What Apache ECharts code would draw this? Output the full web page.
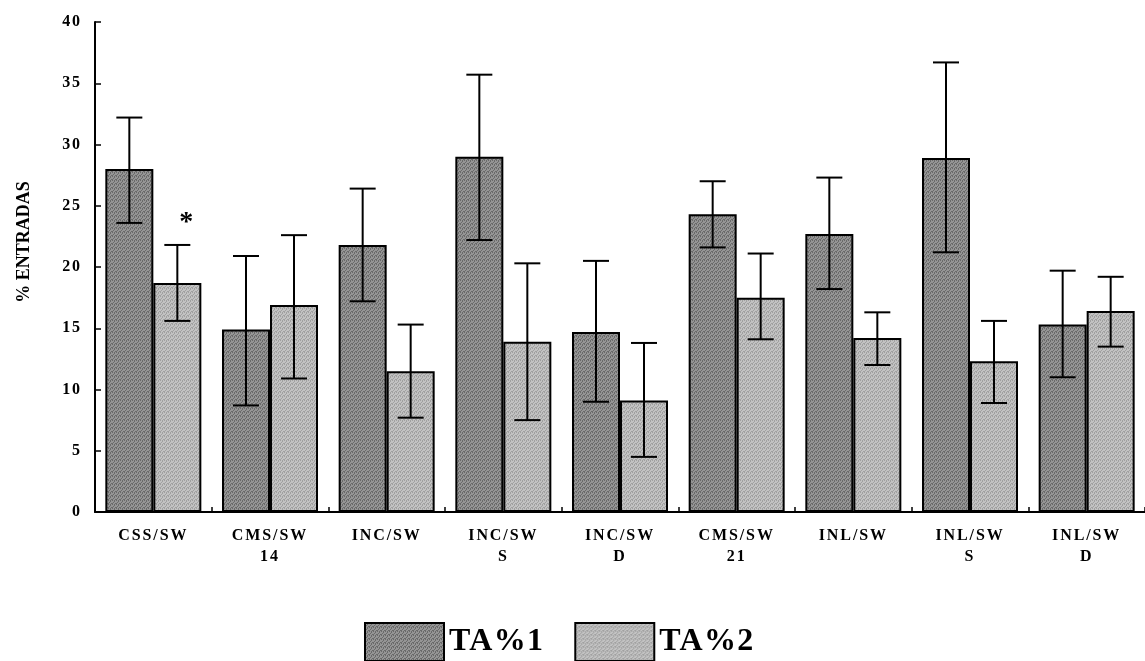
<!DOCTYPE html>
<html>
<head>
<meta charset="utf-8">
<script src="https://cdn.jsdelivr.net/npm/echarts@6/dist/echarts.min.js"></script>
<style>
html,body{margin:0;padding:0;background:#fff;}
#chart{width:1145px;height:661px;}
</style>
</head>
<body>
<div id="chart"></div>
<script>
const categories = ['CSS/SW', 'CMS/SW\n14', 'INC/SW', 'INC/SW\nS', 'INC/SW\nD', 'CMS/SW\n21', 'INL/SW', 'INL/SW\nS', 'INL/SW\nD'];
const seriesNames = ['TA%1', 'TA%2'];
const ta1 = [28.0, 14.9, 21.8, 29.0, 14.7, 24.3, 22.7, 28.9, 15.3];
const ta2 = [18.7, 16.9, 11.5, 13.9, 9.1, 17.5, 14.2, 12.3, 16.4];
const ta1Low = [23.6, 8.7, 17.2, 22.2, 9.0, 21.6, 18.2, 21.2, 11.0];
const ta1High = [32.2, 20.9, 26.4, 35.7, 20.5, 27.0, 27.3, 36.7, 19.7];
const ta2Low = [15.6, 10.9, 7.7, 7.5, 4.5, 14.1, 12.0, 8.9, 13.5];
const ta2High = [21.8, 22.6, 15.3, 20.3, 13.8, 21.1, 16.3, 15.6, 19.2];
const yTicks = {min: 0, max: 40, interval: 5};
const significant = [0]; // TA%2 index marked with *

const FONT = '"Liberation Serif", "Times New Roman", serif';
const BAR_W = 48;

// Letter-spaced typesetting like the original print (style only)
(function () {
  const proto = CanvasRenderingContext2D.prototype;
  const desc = Object.getOwnPropertyDescriptor(proto, 'font');
  if (!desc || !('letterSpacing' in proto)) return;
  const em = {16: 0.12, 32: 0.04};
  Object.defineProperty(proto, 'font', {
    configurable: true,
    get() { return desc.get.call(this); },
    set(v) {
      desc.set.call(this, v);
      const m = /(\d+(?:\.\d+)?)px/.exec(v);
      let sp = 0;
      if (m && /bold/.test(v) && /Serif/.test(v)) {
        const s = parseFloat(m[1]);
        sp = (em[s] || 0) * s;
      }
      this.letterSpacing = sp.toFixed(1) + 'px';
    }
  });
})();

function makePattern(c1, c2) {
  const cv = document.createElement('canvas');
  cv.width = 4; cv.height = 4;
  const ctx = cv.getContext('2d');
  ctx.fillStyle = c1; ctx.fillRect(0, 0, 4, 4);
  ctx.fillStyle = c2;
  ctx.fillRect(0, 0, 1, 1); ctx.fillRect(2, 1, 1, 1); ctx.fillRect(1, 2, 1, 1); ctx.fillRect(3, 3, 1, 1);
  ctx.fillRect(2, 0, 1, 1); ctx.fillRect(0, 3, 1, 1);
  return {image: cv, repeat: 'repeat'};
}
const darkFill = makePattern('#959595', '#6a6a6a');
const lightFill = makePattern('#c2c2c2', '#a0a0a0');

function errRender(side) {
  return function (params, api) {
    const i = api.value(0);
    const lo = api.coord([i, api.value(1)]);
    const hi = api.coord([i, api.value(2)]);
    const x = lo[0] + side * BAR_W / 2;
    const half = 13;
    const st = {stroke: '#000', lineWidth: 2};
    return {
      type: 'group',
      children: [
        {type: 'line', shape: {x1: x, y1: lo[1], x2: x, y2: hi[1]}, style: st},
        {type: 'line', shape: {x1: x - half, y1: hi[1], x2: x + half, y2: hi[1]}, style: st},
        {type: 'line', shape: {x1: x - half, y1: lo[1], x2: x + half, y2: lo[1]}, style: st}
      ]
    };
  };
}

const ta2Data = ta2.map((v, i) => significant.includes(i) ? {
  value: v,
  label: {show: true, formatter: '*', position: 'top', distance: 46, offset: [9, 0],
    fontFamily: FONT, fontWeight: 'bold', fontSize: 28, color: '#000'}
} : v);

const chart = echarts.init(document.getElementById('chart'), null, {renderer: 'canvas'});
chart.setOption({
  animation: false,
  backgroundColor: '#fff',
  grid: {left: 95, top: 22, width: 1055, height: 490, containLabel: false},
  legend: {
    data: seriesNames,
    left: 359, top: 617,
    itemWidth: 79, itemHeight: 38, itemGap: 30,
    icon: 'rect',
    textStyle: {fontFamily: FONT, fontWeight: 'bold', fontSize: 32, color: '#000', padding: [4, 0, 0, 0]}
  },
  xAxis: {
    type: 'category',
    data: categories,
    boundaryGap: true,
    axisLine: {lineStyle: {color: '#000', width: 2}},
    axisTick: {show: true, inside: true, length: 5, lineStyle: {color: '#000', width: 1.5}},
    axisLabel: {interval: 0, margin: 13, fontFamily: FONT, fontWeight: 'bold', fontSize: 16,
      lineHeight: 21, color: '#000'}
  },
  yAxis: {
    type: 'value',
    min: yTicks.min, max: yTicks.max, interval: yTicks.interval,
    name: '% ENTRADAS',
    nameLocation: 'middle',
    nameGap: 62,
    nameTextStyle: {fontFamily: FONT, fontWeight: 'bold', fontSize: 18, color: '#000', padding: [0, 0, 0, 50]},
    splitLine: {show: false},
    axisLine: {show: true, lineStyle: {color: '#000', width: 2}},
    axisTick: {show: true, inside: true, length: 6, lineStyle: {color: '#000', width: 1.5}},
    axisLabel: {margin: 13, fontFamily: FONT, fontWeight: 'bold', fontSize: 16, color: '#000'}
  },
  series: [
    {
      name: seriesNames[0], type: 'bar', data: ta1, barWidth: BAR_W, barGap: '0%',
      itemStyle: {color: darkFill, borderColor: '#000', borderWidth: 2}
    },
    {
      name: seriesNames[1], type: 'bar', data: ta2Data, barWidth: BAR_W, barGap: '0%',
      itemStyle: {color: lightFill, borderColor: '#000', borderWidth: 2}
    },
    {
      type: 'custom', name: 'err1', z: 10,
      renderItem: errRender(-1),
      encode: {x: 0, y: [1, 2]},
      data: ta1.map((_, i) => [i, ta1Low[i], ta1High[i]])
    },
    {
      type: 'custom', name: 'err2', z: 10,
      renderItem: errRender(1),
      encode: {x: 0, y: [1, 2]},
      data: ta2.map((_, i) => [i, ta2Low[i], ta2High[i]])
    }
  ]
});
</script>
</body>
</html>
